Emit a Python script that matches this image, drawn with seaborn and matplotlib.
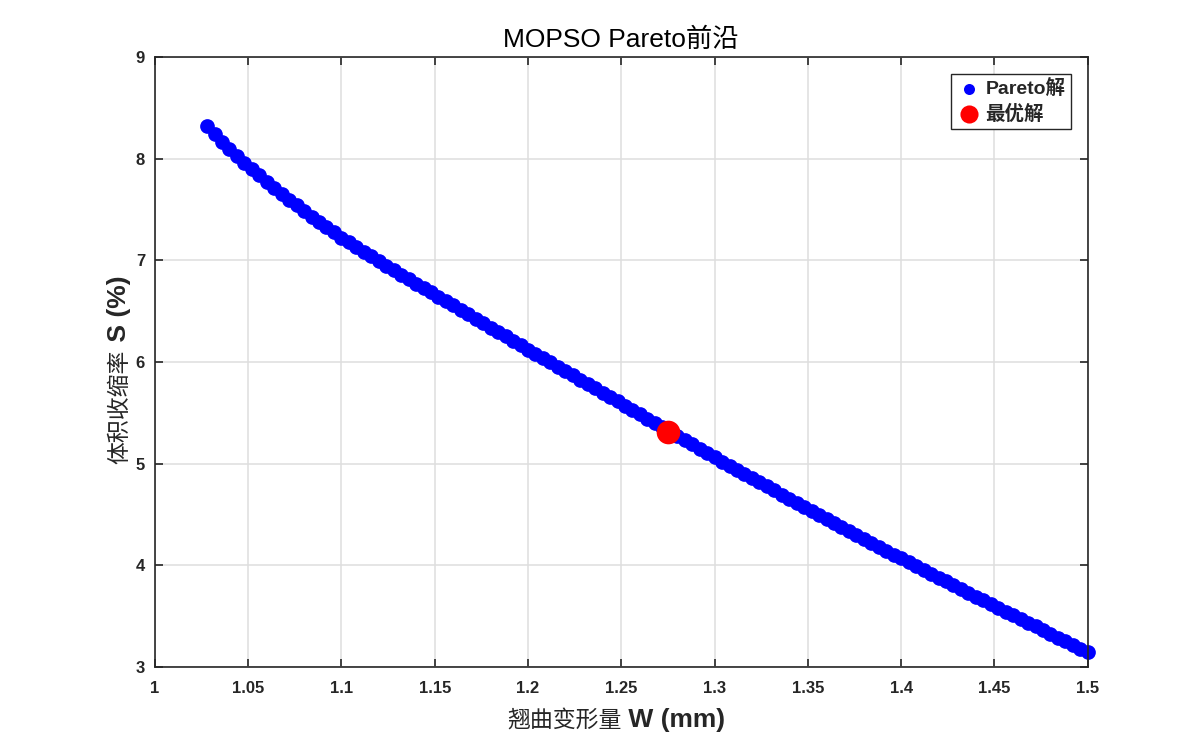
import matplotlib
matplotlib.use("Agg")
import matplotlib.pyplot as plt
import seaborn as sns

# ------------------------
# DATA
# ------------------------

warp_w = [
    1.028, 1.032, 1.036, 1.040, 1.044, 1.048, 1.052, 1.056, 1.060, 1.064,
    1.068, 1.072, 1.076, 1.080, 1.084, 1.088, 1.092, 1.096, 1.100, 1.104,
    1.108, 1.112, 1.116, 1.120, 1.124, 1.128, 1.132, 1.136, 1.140, 1.144,
    1.148, 1.152, 1.156, 1.160, 1.164, 1.168, 1.172, 1.176, 1.180, 1.184,
    1.188, 1.192, 1.196, 1.200, 1.204, 1.208, 1.212, 1.216, 1.220, 1.224,
    1.228, 1.232, 1.236, 1.240, 1.244, 1.248, 1.252, 1.256, 1.260, 1.264,
    1.268, 1.272, 1.276, 1.280, 1.284, 1.288, 1.292, 1.296, 1.300, 1.304,
    1.308, 1.312, 1.316, 1.320, 1.324, 1.328, 1.332, 1.336, 1.340, 1.344,
    1.348, 1.352, 1.356, 1.360, 1.364, 1.368, 1.372, 1.376, 1.380, 1.384,
    1.388, 1.392, 1.396, 1.400, 1.404, 1.408, 1.412, 1.416, 1.420, 1.424,
    1.428, 1.432, 1.436, 1.440, 1.444, 1.448, 1.452, 1.456, 1.460, 1.464,
    1.468, 1.472, 1.476, 1.480, 1.484, 1.488, 1.492, 1.496, 1.500,
]

shrink_s = [
    8.320, 8.240, 8.164, 8.092, 8.024, 7.960, 7.898, 7.836, 7.774, 7.714,
    7.655, 7.597, 7.540, 7.484, 7.430, 7.377, 7.325, 7.274, 7.224, 7.176,
    7.130, 7.084, 7.038, 6.993, 6.948, 6.904, 6.860, 6.816, 6.772, 6.729,
    6.686, 6.643, 6.600, 6.556, 6.513, 6.469, 6.426, 6.383, 6.339, 6.296,
    6.252, 6.209, 6.165, 6.122, 6.080, 6.037, 5.995, 5.952, 5.910, 5.868,
    5.825, 5.783, 5.740, 5.698, 5.656, 5.613, 5.571, 5.528, 5.486, 5.444,
    5.401, 5.359, 5.316, 5.274, 5.232, 5.189, 5.147, 5.104, 5.062, 5.021,
    4.980, 4.940, 4.899, 4.858, 4.817, 4.776, 4.736, 4.695, 4.654, 4.613,
    4.572, 4.533, 4.494, 4.455, 4.416, 4.377, 4.338, 4.299, 4.260, 4.222,
    4.183, 4.145, 4.106, 4.068, 4.030, 3.993, 3.955, 3.918, 3.880, 3.842,
    3.805, 3.767, 3.730, 3.692, 3.654, 3.617, 3.581, 3.544, 3.508, 3.471,
    3.435, 3.399, 3.362, 3.326, 3.289, 3.253, 3.217, 3.180, 3.144,
]

best_w = [1.275]
best_s = [5.31]

x_ticks = [1.0, 1.05, 1.1, 1.15, 1.2, 1.25, 1.3, 1.35, 1.4, 1.45, 1.5]
x_tick_labels = ["1", "1.05", "1.1", "1.15", "1.2", "1.25", "1.3", "1.35", "1.4", "1.45", "1.5"]
y_ticks = [3, 4, 5, 6, 7, 8, 9]
y_tick_labels = ["3", "4", "5", "6", "7", "8", "9"]

title_text = "MOPSO Pareto前沿"
xlabel_cjk, xlabel_latin = "翘曲变形量", " W (mm)"
ylabel_cjk, ylabel_latin = "体积收缩率", " S (%)"

# ------------------------
# STYLE
# ------------------------

sns.set_style("ticks")
plt.rcParams["font.family"] = ["Liberation Sans", "Noto Sans CJK SC", "DejaVu Sans"]
plt.rcParams["axes.unicode_minus"] = False

axis_color = "#262626"

fig = plt.figure(figsize=(12, 7.5), dpi=100)
ax = fig.add_axes([0.129, 0.1107, 0.7775, 0.8133])

sns.scatterplot(x=warp_w, y=shrink_s, ax=ax, color="#0000ff", s=112,
                linewidth=0, label="Pareto解", zorder=2, clip_on=False)
sns.scatterplot(x=best_w, y=best_s, ax=ax, color="#ff0000", s=290,
                linewidth=0, label="最优解", zorder=3, clip_on=False)

ax.set_xlim(1, 1.5)
ax.set_ylim(3, 9)
ax.set_xticks(x_ticks)
ax.set_xticklabels(x_tick_labels)
ax.set_yticks(y_ticks)
ax.set_yticklabels(y_tick_labels)

for lbl in ax.get_xticklabels() + ax.get_yticklabels():
    lbl.set_fontweight("bold")
    lbl.set_fontsize(12)
    lbl.set_color(axis_color)

ax.tick_params(direction="in", length=6, width=1.2, top=True, right=True,
               color=axis_color)
ax.tick_params(axis="x", pad=10)
ax.tick_params(axis="y", pad=7)
ax.grid(True, color="#dedede", linewidth=1.1)
ax.set_axisbelow(True)

for sp in ax.spines.values():
    sp.set_visible(True)
    sp.set_color(axis_color)
    sp.set_linewidth(1.2)

ax.set_title(title_text, fontsize=19, color="black", pad=7)

# axis labels: CJK part regular, latin part bold
ax.text(0.50, -0.098, xlabel_cjk, transform=ax.transAxes, ha="right",
        va="baseline", fontsize=16.5, color=axis_color)
ax.text(0.50, -0.098, xlabel_latin, transform=ax.transAxes, ha="left",
        va="baseline", fontsize=19, fontweight="bold", color=axis_color)

ax.text(-0.031, 0.521, ylabel_cjk, transform=ax.transAxes, ha="right",
        va="baseline", rotation=90, rotation_mode="anchor", fontsize=16.5,
        color=axis_color)
ax.text(-0.031, 0.521, ylabel_latin, transform=ax.transAxes, ha="left",
        va="baseline", rotation=90, rotation_mode="anchor", fontsize=19,
        fontweight="bold", color=axis_color)

leg = ax.legend(loc="upper right", frameon=True, fancybox=False,
                edgecolor=axis_color, framealpha=1, borderaxespad=0.85,
                borderpad=0.3, labelspacing=0.3, handletextpad=0.25,
                handlelength=1.2, prop={"size": 14, "weight": "bold"})
leg.get_frame().set_linewidth(1.0)
leg.legend_handles[0].set_sizes([63])
leg.legend_handles[1].set_sizes([170])

fig.savefig("out.png", dpi=100)
